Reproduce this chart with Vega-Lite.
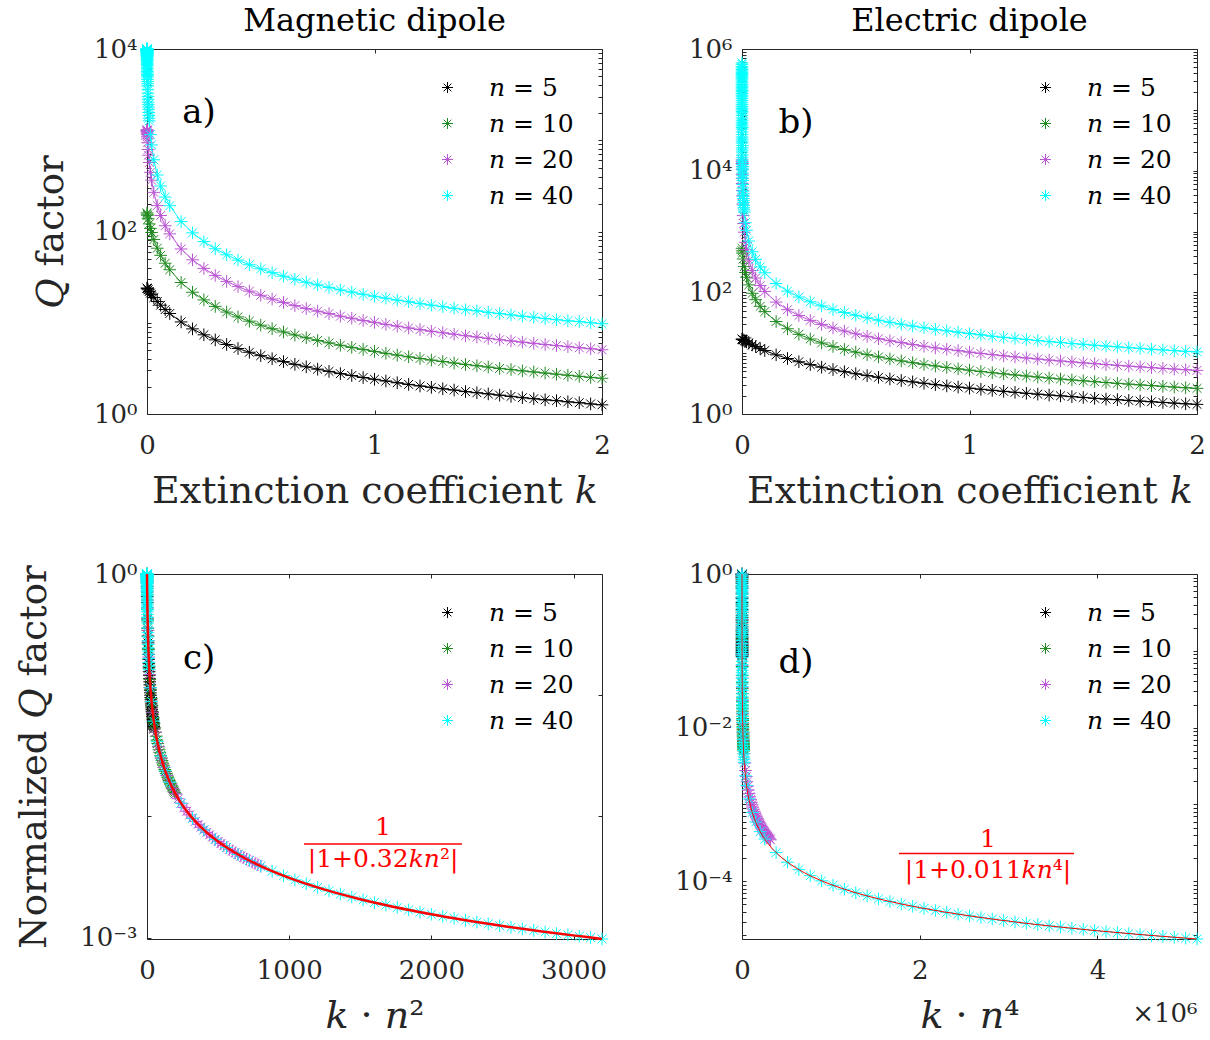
{
"$schema": "https://vega.github.io/schema/vega-lite/v6.json",
"padding": {"left": 15, "top": 4, "right": 0, "bottom": 0},
"background": "white",
"config": {
 "font": "DejaVu Serif",
 "view": {"stroke": "#262626", "strokeWidth": 1},
 "axis": {"domain": false, "grid": false, "tickSize": -4, "tickColor": "#262626", "tickWidth": 1, "labelFont": "DejaVu Serif", "labelFontSize": 26, "labelColor": "#262626", "titleFont": "DejaVu Serif", "titleFontSize": 37, "titleFontWeight": "normal", "titleColor": "#262626", "labelFlush": false, "labelOverlap": false, "labelBound": false, "labelAngle": 0},
 "axisX": {"labelPadding": 22, "titlePadding": 14, "titleFontSize": 38},
 "axisY": {"labelPadding": 14, "titlePadding": 23},
 "title": {"font": "DejaVu Serif", "fontSize": 32, "fontWeight": "normal", "color": "#000000", "offset": -2},
 "legend": {"labelFont": "DejaVu Serif", "labelFontSize": 25, "labelColor": "#000000"}
},
"datasets": {
 "q": [
{"k":0,"n":5,"qm":24,"qe":17,"kn2":0,"kn4":0,"qmn":1,"qen":1},
{"k":0.001,"n":5,"qm":23.79,"qe":16.91,"kn2":0.025,"kn4":0.625,"qmn":0.9911,"qen":0.9946},
{"k":0.002,"n":5,"qm":23.58,"qe":16.82,"kn2":0.05,"kn4":1.25,"qmn":0.9823,"qen":0.9893},
{"k":0.005,"n":5,"qm":22.97,"qe":16.55,"kn2":0.125,"kn4":3.125,"qmn":0.9569,"qen":0.9737},
{"k":0.01,"n":5,"qm":22.02,"qe":16.13,"kn2":0.25,"kn4":6.25,"qmn":0.9174,"qen":0.9488},
{"k":0.015,"n":5,"qm":21.15,"qe":15.73,"kn2":0.375,"kn4":9.375,"qmn":0.8811,"qen":0.9251},
{"k":0.02,"n":5,"qm":20.34,"qe":15.34,"kn2":0.5,"kn4":12.5,"qmn":0.8475,"qen":0.9025},
{"k":0.03,"n":5,"qm":18.9,"qe":14.63,"kn2":0.75,"kn4":18.75,"qmn":0.7874,"qen":0.8606},
{"k":0.045,"n":5,"qm":17.08,"qe":13.68,"kn2":1.125,"kn4":28.125,"qmn":0.7117,"qen":0.8045},
{"k":0.06,"n":5,"qm":15.58,"qe":12.84,"kn2":1.5,"kn4":37.5,"qmn":0.6494,"qen":0.7553},
{"k":0.08,"n":5,"qm":13.95,"qe":11.87,"kn2":2,"kn4":50,"qmn":0.5814,"qen":0.6983},
{"k":0.1,"n":5,"qm":12.63,"qe":11.04,"kn2":2.5,"kn4":62.5,"qmn":0.5263,"qen":0.6494},
{"k":0.15,"n":5,"qm":10.21,"qe":9.39,"kn2":3.75,"kn4":93.75,"qmn":0.4255,"qen":0.5525},
{"k":0.2,"n":5,"qm":8.57,"qe":8.17,"kn2":5,"kn4":125,"qmn":0.3571,"qen":0.4808},
{"k":0.25,"n":5,"qm":7.38,"qe":7.23,"kn2":6.25,"kn4":156.25,"qmn":0.3077,"qen":0.4255},
{"k":0.3,"n":5,"qm":6.49,"qe":6.49,"kn2":7.5,"kn4":187.5,"qmn":0.2703,"qen":0.3817},
{"k":0.35,"n":5,"qm":5.78,"qe":5.88,"kn2":8.75,"kn4":218.75,"qmn":0.241,"qen":0.346},
{"k":0.4,"n":5,"qm":5.22,"qe":5.38,"kn2":10,"kn4":250,"qmn":0.2174,"qen":0.3165},
{"k":0.45,"n":5,"qm":4.75,"qe":4.96,"kn2":11.25,"kn4":281.25,"qmn":0.198,"qen":0.2915},
{"k":0.5,"n":5,"qm":4.36,"qe":4.59,"kn2":12.5,"kn4":312.5,"qmn":0.1818,"qen":0.2703},
{"k":0.55,"n":5,"qm":4.03,"qe":4.28,"kn2":13.75,"kn4":343.75,"qmn":0.1681,"qen":0.2519},
{"k":0.6,"n":5,"qm":3.75,"qe":4.01,"kn2":15,"kn4":375,"qmn":0.1563,"qen":0.2358},
{"k":0.65,"n":5,"qm":3.5,"qe":3.77,"kn2":16.25,"kn4":406.25,"qmn":0.146,"qen":0.2217},
{"k":0.7,"n":5,"qm":3.29,"qe":3.56,"kn2":17.5,"kn4":437.5,"qmn":0.137,"qen":0.2092},
{"k":0.75,"n":5,"qm":3.1,"qe":3.37,"kn2":18.75,"kn4":468.75,"qmn":0.129,"qen":0.198},
{"k":0.8,"n":5,"qm":2.93,"qe":3.2,"kn2":20,"kn4":500,"qmn":0.122,"qen":0.188},
{"k":0.85,"n":5,"qm":2.77,"qe":3.04,"kn2":21.25,"kn4":531.25,"qmn":0.1156,"qen":0.1789},
{"k":0.9,"n":5,"qm":2.64,"qe":2.9,"kn2":22.5,"kn4":562.5,"qmn":0.1099,"qen":0.1706},
{"k":0.95,"n":5,"qm":2.51,"qe":2.77,"kn2":23.75,"kn4":593.75,"qmn":0.1047,"qen":0.1631},
{"k":1,"n":5,"qm":2.4,"qe":2.66,"kn2":25,"kn4":625,"qmn":0.1,"qen":0.1563},
{"k":1.05,"n":5,"qm":2.3,"qe":2.55,"kn2":26.25,"kn4":656.25,"qmn":0.0957,"qen":0.1499},
{"k":1.1,"n":5,"qm":2.2,"qe":2.45,"kn2":27.5,"kn4":687.5,"qmn":0.0917,"qen":0.1441},
{"k":1.15,"n":5,"qm":2.11,"qe":2.36,"kn2":28.75,"kn4":718.75,"qmn":0.0881,"qen":0.1387},
{"k":1.2,"n":5,"qm":2.03,"qe":2.27,"kn2":30,"kn4":750,"qmn":0.0847,"qen":0.1337},
{"k":1.25,"n":5,"qm":1.96,"qe":2.19,"kn2":31.25,"kn4":781.25,"qmn":0.0816,"qen":0.129},
{"k":1.3,"n":5,"qm":1.89,"qe":2.12,"kn2":32.5,"kn4":812.5,"qmn":0.0787,"qen":0.1247},
{"k":1.35,"n":5,"qm":1.83,"qe":2.05,"kn2":33.75,"kn4":843.75,"qmn":0.076,"qen":0.1206},
{"k":1.4,"n":5,"qm":1.76,"qe":1.99,"kn2":35,"kn4":875,"qmn":0.0735,"qen":0.1168},
{"k":1.45,"n":5,"qm":1.71,"qe":1.93,"kn2":36.25,"kn4":906.25,"qmn":0.0712,"qen":0.1133},
{"k":1.5,"n":5,"qm":1.66,"qe":1.87,"kn2":37.5,"kn4":937.5,"qmn":0.069,"qen":0.1099},
{"k":1.55,"n":5,"qm":1.61,"qe":1.81,"kn2":38.75,"kn4":968.75,"qmn":0.0669,"qen":0.1067},
{"k":1.6,"n":5,"qm":1.56,"qe":1.76,"kn2":40,"kn4":1000,"qmn":0.0649,"qen":0.1037},
{"k":1.65,"n":5,"qm":1.51,"qe":1.72,"kn2":41.25,"kn4":1031.25,"qmn":0.0631,"qen":0.1009},
{"k":1.7,"n":5,"qm":1.47,"qe":1.67,"kn2":42.5,"kn4":1062.5,"qmn":0.0613,"qen":0.0982},
{"k":1.75,"n":5,"qm":1.43,"qe":1.63,"kn2":43.75,"kn4":1093.75,"qmn":0.0597,"qen":0.0957},
{"k":1.8,"n":5,"qm":1.4,"qe":1.59,"kn2":45,"kn4":1125,"qmn":0.0581,"qen":0.0933},
{"k":1.85,"n":5,"qm":1.36,"qe":1.55,"kn2":46.25,"kn4":1156.25,"qmn":0.0567,"qen":0.091},
{"k":1.9,"n":5,"qm":1.33,"qe":1.51,"kn2":47.5,"kn4":1187.5,"qmn":0.0552,"qen":0.0888},
{"k":1.95,"n":5,"qm":1.29,"qe":1.47,"kn2":48.75,"kn4":1218.75,"qmn":0.0539,"qen":0.0867},
{"k":2,"n":5,"qm":1.26,"qe":1.44,"kn2":50,"kn4":1250,"qmn":0.0526,"qen":0.0847},
{"k":0,"n":10,"qm":160,"qe":530,"kn2":0,"kn4":0,"qmn":1,"qen":1},
{"k":0.001,"n":10,"qm":155,"qe":481.8,"kn2":0.1,"kn4":10,"qmn":0.969,"qen":0.9091},
{"k":0.002,"n":10,"qm":150.4,"qe":441.7,"kn2":0.2,"kn4":20,"qmn":0.9398,"qen":0.8333},
{"k":0.005,"n":10,"qm":137.9,"qe":353.3,"kn2":0.5,"kn4":50,"qmn":0.8621,"qen":0.6667},
{"k":0.01,"n":10,"qm":121.2,"qe":265,"kn2":1,"kn4":100,"qmn":0.7576,"qen":0.5},
{"k":0.015,"n":10,"qm":108.1,"qe":212,"kn2":1.5,"kn4":150,"qmn":0.6757,"qen":0.4},
{"k":0.02,"n":10,"qm":97.6,"qe":176.7,"kn2":2,"kn4":200,"qmn":0.6098,"qen":0.3333},
{"k":0.03,"n":10,"qm":81.6,"qe":132.5,"kn2":3,"kn4":300,"qmn":0.5102,"qen":0.25},
{"k":0.045,"n":10,"qm":65.6,"qe":96.4,"kn2":4.5,"kn4":450,"qmn":0.4098,"qen":0.1818},
{"k":0.06,"n":10,"qm":54.8,"qe":75.7,"kn2":6,"kn4":600,"qmn":0.3425,"qen":0.1429},
{"k":0.08,"n":10,"qm":44.9,"qe":58.9,"kn2":8,"kn4":800,"qmn":0.2809,"qen":0.1111},
{"k":0.1,"n":10,"qm":38.1,"qe":48.2,"kn2":10,"kn4":1000,"qmn":0.2381,"qen":0.0909},
{"k":0.15,"n":10,"qm":27.6,"qe":33.1,"kn2":15,"kn4":1500,"qmn":0.1724,"qen":0.0625},
{"k":0.2,"n":10,"qm":21.6,"qe":25.2,"kn2":20,"kn4":2000,"qmn":0.1351,"qen":0.0476},
{"k":0.25,"n":10,"qm":17.8,"qe":20.4,"kn2":25,"kn4":2500,"qmn":0.1111,"qen":0.03846},
{"k":0.3,"n":10,"qm":15.1,"qe":17.1,"kn2":30,"kn4":3000,"qmn":0.0943,"qen":0.03226},
{"k":0.35,"n":10,"qm":13.1,"qe":14.7,"kn2":35,"kn4":3500,"qmn":0.082,"qen":0.02778},
{"k":0.4,"n":10,"qm":11.6,"qe":12.9,"kn2":40,"kn4":4000,"qmn":0.0725,"qen":0.02439},
{"k":0.45,"n":10,"qm":10.4,"qe":11.5,"kn2":45,"kn4":4500,"qmn":0.0649,"qen":0.02174},
{"k":0.5,"n":10,"qm":9.41,"qe":10.4,"kn2":50,"kn4":5000,"qmn":0.0588,"qen":0.01961},
{"k":0.55,"n":10,"qm":8.6,"qe":9.46,"kn2":55,"kn4":5500,"qmn":0.0538,"qen":0.01786},
{"k":0.6,"n":10,"qm":7.92,"qe":8.69,"kn2":60,"kn4":6000,"qmn":0.0495,"qen":0.01639},
{"k":0.65,"n":10,"qm":7.34,"qe":8.03,"kn2":65,"kn4":6500,"qmn":0.0459,"qen":0.01515},
{"k":0.7,"n":10,"qm":6.84,"qe":7.46,"kn2":70,"kn4":7000,"qmn":0.0427,"qen":0.01408},
{"k":0.75,"n":10,"qm":6.4,"qe":6.97,"kn2":75,"kn4":7500,"qmn":0.04,"qen":0.01316},
{"k":0.8,"n":10,"qm":6.02,"qe":6.54,"kn2":80,"kn4":8000,"qmn":0.0376,"qen":0.01235},
{"k":0.85,"n":10,"qm":5.67,"qe":6.16,"kn2":85,"kn4":8500,"qmn":0.0355,"qen":0.01163},
{"k":0.9,"n":10,"qm":5.37,"qe":5.82,"kn2":90,"kn4":9000,"qmn":0.0336,"qen":0.01099},
{"k":0.95,"n":10,"qm":5.1,"qe":5.52,"kn2":95,"kn4":9500,"qmn":0.0318,"qen":0.01042},
{"k":1,"n":10,"qm":4.85,"qe":5.25,"kn2":100,"kn4":10000,"qmn":0.0303,"qen":0.0099},
{"k":1.05,"n":10,"qm":4.62,"qe":5,"kn2":105,"kn4":10500,"qmn":0.0289,"qen":0.00943},
{"k":1.1,"n":10,"qm":4.42,"qe":4.77,"kn2":110,"kn4":11000,"qmn":0.0276,"qen":0.00901},
{"k":1.15,"n":10,"qm":4.23,"qe":4.57,"kn2":115,"kn4":11500,"qmn":0.0265,"qen":0.00862},
{"k":1.2,"n":10,"qm":4.06,"qe":4.38,"kn2":120,"kn4":12000,"qmn":0.0254,"qen":0.00826},
{"k":1.25,"n":10,"qm":3.9,"qe":4.21,"kn2":125,"kn4":12500,"qmn":0.0244,"qen":0.00794},
{"k":1.3,"n":10,"qm":3.76,"qe":4.05,"kn2":130,"kn4":13000,"qmn":0.0235,"qen":0.00763},
{"k":1.35,"n":10,"qm":3.62,"qe":3.9,"kn2":135,"kn4":13500,"qmn":0.0226,"qen":0.00735},
{"k":1.4,"n":10,"qm":3.49,"qe":3.76,"kn2":140,"kn4":14000,"qmn":0.0218,"qen":0.00709},
{"k":1.45,"n":10,"qm":3.38,"qe":3.63,"kn2":145,"kn4":14500,"qmn":0.0211,"qen":0.00685},
{"k":1.5,"n":10,"qm":3.27,"qe":3.51,"kn2":150,"kn4":15000,"qmn":0.0204,"qen":0.00662},
{"k":1.55,"n":10,"qm":3.16,"qe":3.4,"kn2":155,"kn4":15500,"qmn":0.0198,"qen":0.00641},
{"k":1.6,"n":10,"qm":3.07,"qe":3.29,"kn2":160,"kn4":16000,"qmn":0.0192,"qen":0.00621},
{"k":1.65,"n":10,"qm":2.97,"qe":3.19,"kn2":165,"kn4":16500,"qmn":0.0186,"qen":0.00602},
{"k":1.7,"n":10,"qm":2.89,"qe":3.1,"kn2":170,"kn4":17000,"qmn":0.0181,"qen":0.00585},
{"k":1.75,"n":10,"qm":2.81,"qe":3.01,"kn2":175,"kn4":17500,"qmn":0.0175,"qen":0.00568},
{"k":1.8,"n":10,"qm":2.73,"qe":2.93,"kn2":180,"kn4":18000,"qmn":0.0171,"qen":0.00552},
{"k":1.85,"n":10,"qm":2.66,"qe":2.85,"kn2":185,"kn4":18500,"qmn":0.0166,"qen":0.00538},
{"k":1.9,"n":10,"qm":2.59,"qe":2.77,"kn2":190,"kn4":19000,"qmn":0.0162,"qen":0.00524},
{"k":1.95,"n":10,"qm":2.52,"qe":2.7,"kn2":195,"kn4":19500,"qmn":0.0158,"qen":0.0051},
{"k":2,"n":10,"qm":2.46,"qe":2.64,"kn2":200,"kn4":20000,"qmn":0.0154,"qen":0.00498},
{"k":0,"n":20,"qm":1300,"qe":15000,"kn2":0,"kn4":0,"qmn":1,"qen":1},
{"k":0.00005,"n":20,"qm":1292,"qe":13993,"kn2":0.02,"kn4":8,"qmn":0.9936,"qen":0.9328},
{"k":0.0001,"n":20,"qm":1284,"qe":13112,"kn2":0.04,"kn4":16,"qmn":0.9874,"qen":0.8741},
{"k":0.0002,"n":20,"qm":1268,"qe":11646,"kn2":0.08,"kn4":32,"qmn":0.975,"qen":0.7764},
{"k":0.0003,"n":20,"qm":1252,"qe":10475,"kn2":0.12,"kn4":48,"qmn":0.963,"qen":0.6983},
{"k":0.0005,"n":20,"qm":1222,"qe":8721,"kn2":0.2,"kn4":80,"qmn":0.9398,"qen":0.5814},
{"k":0.0007,"n":20,"qm":1193,"qe":7470,"kn2":0.28,"kn4":112,"qmn":0.9178,"qen":0.498},
{"k":0.001,"n":20,"qm":1152,"qe":6148,"kn2":0.4,"kn4":160,"qmn":0.8865,"qen":0.4098},
{"k":0.0015,"n":20,"qm":1091,"qe":4747,"kn2":0.6,"kn4":240,"qmn":0.8389,"qen":0.3165},
{"k":0.002,"n":20,"qm":1035,"qe":3866,"kn2":0.8,"kn4":320,"qmn":0.7962,"qen":0.2577},
{"k":0.003,"n":20,"qm":939.3,"qe":2820,"kn2":1.2,"kn4":480,"qmn":0.7225,"qen":0.188},
{"k":0.005,"n":20,"qm":792.7,"qe":1829,"kn2":2,"kn4":800,"qmn":0.6098,"qen":0.122},
{"k":0.007,"n":20,"qm":685.7,"qe":1354,"kn2":2.8,"kn4":1120,"qmn":0.5274,"qen":0.09025},
{"k":0.01,"n":20,"qm":570.2,"qe":974,"kn2":4,"kn4":1600,"qmn":0.4386,"qen":0.06494},
{"k":0.015,"n":20,"qm":445.2,"qe":663.7,"kn2":6,"kn4":2400,"qmn":0.3425,"qen":0.04425},
{"k":0.02,"n":20,"qm":365.2,"qe":503.4,"kn2":8,"kn4":3200,"qmn":0.2809,"qen":0.03356},
{"k":0.03,"n":20,"qm":268.6,"qe":339.4,"kn2":12,"kn4":4800,"qmn":0.2066,"qen":0.02262},
{"k":0.045,"n":20,"qm":192.3,"qe":228,"kn2":18,"kn4":7200,"qmn":0.1479,"qen":0.0152},
{"k":0.06,"n":20,"qm":149.8,"qe":171.6,"kn2":24,"kn4":9600,"qmn":0.1152,"qen":0.01144},
{"k":0.08,"n":20,"qm":115.7,"qe":129.1,"kn2":32,"kn4":12800,"qmn":0.08897,"qen":0.008606},
{"k":0.1,"n":20,"qm":94.2,"qe":103.4,"kn2":40,"kn4":16000,"qmn":0.07246,"qen":0.006897},
{"k":0.15,"n":20,"qm":64.4,"qe":69.1,"kn2":60,"kn4":24000,"qmn":0.0495,"qen":0.004608},
{"k":0.2,"n":20,"qm":48.9,"qe":51.9,"kn2":80,"kn4":32000,"qmn":0.03759,"qen":0.00346},
{"k":0.25,"n":20,"qm":39.4,"qe":41.6,"kn2":100,"kn4":40000,"qmn":0.0303,"qen":0.00277},
{"k":0.3,"n":20,"qm":33,"qe":34.6,"kn2":120,"kn4":48000,"qmn":0.02538,"qen":0.002309},
{"k":0.35,"n":20,"qm":28.4,"qe":29.7,"kn2":140,"kn4":56000,"qmn":0.02183,"qen":0.00198},
{"k":0.4,"n":20,"qm":24.9,"qe":26,"kn2":160,"kn4":64000,"qmn":0.01916,"qen":0.001733},
{"k":0.45,"n":20,"qm":22.2,"qe":23.1,"kn2":180,"kn4":72000,"qmn":0.01706,"qen":0.001541},
{"k":0.5,"n":20,"qm":20,"qe":20.8,"kn2":200,"kn4":80000,"qmn":0.01538,"qen":0.001387},
{"k":0.55,"n":20,"qm":18.2,"qe":18.9,"kn2":220,"kn4":88000,"qmn":0.01401,"qen":0.001261},
{"k":0.6,"n":20,"qm":16.7,"qe":17.3,"kn2":240,"kn4":96000,"qmn":0.01285,"qen":0.001156},
{"k":0.65,"n":20,"qm":15.4,"qe":16,"kn2":260,"kn4":104000,"qmn":0.01188,"qen":0.001067},
{"k":0.7,"n":20,"qm":14.3,"qe":14.9,"kn2":280,"kn4":112000,"qmn":0.01104,"qen":0.000991},
{"k":0.75,"n":20,"qm":13.4,"qe":13.9,"kn2":300,"kn4":120000,"qmn":0.01031,"qen":0.000925},
{"k":0.8,"n":20,"qm":12.6,"qe":13,"kn2":320,"kn4":128000,"qmn":0.009671,"qen":0.000867},
{"k":0.85,"n":20,"qm":11.8,"qe":12.2,"kn2":340,"kn4":136000,"qmn":0.009107,"qen":0.000816},
{"k":0.9,"n":20,"qm":11.2,"qe":11.6,"kn2":360,"kn4":144000,"qmn":0.008606,"qen":0.000771},
{"k":0.95,"n":20,"qm":10.6,"qe":11,"kn2":380,"kn4":152000,"qmn":0.008157,"qen":0.00073},
{"k":1,"n":20,"qm":10.1,"qe":10.4,"kn2":400,"kn4":160000,"qmn":0.007752,"qen":0.000694},
{"k":1.05,"n":20,"qm":9.6,"qe":9.91,"kn2":420,"kn4":168000,"qmn":0.007386,"qen":0.000661},
{"k":1.1,"n":20,"qm":9.17,"qe":9.46,"kn2":440,"kn4":176000,"qmn":0.007052,"qen":0.000631},
{"k":1.15,"n":20,"qm":8.77,"qe":9.05,"kn2":460,"kn4":184000,"qmn":0.006748,"qen":0.000604},
{"k":1.2,"n":20,"qm":8.41,"qe":8.68,"kn2":480,"kn4":192000,"qmn":0.006468,"qen":0.000578},
{"k":1.25,"n":20,"qm":8.07,"qe":8.33,"kn2":500,"kn4":200000,"qmn":0.006211,"qen":0.000555},
{"k":1.3,"n":20,"qm":7.77,"qe":8.01,"kn2":520,"kn4":208000,"qmn":0.005974,"qen":0.000534},
{"k":1.35,"n":20,"qm":7.48,"qe":7.71,"kn2":540,"kn4":216000,"qmn":0.005754,"qen":0.000514},
{"k":1.4,"n":20,"qm":7.21,"qe":7.44,"kn2":560,"kn4":224000,"qmn":0.005549,"qen":0.000496},
{"k":1.45,"n":20,"qm":6.97,"qe":7.18,"kn2":580,"kn4":232000,"qmn":0.005359,"qen":0.000479},
{"k":1.5,"n":20,"qm":6.74,"qe":6.94,"kn2":600,"kn4":240000,"qmn":0.005181,"qen":0.000463},
{"k":1.55,"n":20,"qm":6.52,"qe":6.72,"kn2":620,"kn4":248000,"qmn":0.005015,"qen":0.000448},
{"k":1.6,"n":20,"qm":6.32,"qe":6.51,"kn2":640,"kn4":256000,"qmn":0.004859,"qen":0.000434},
{"k":1.65,"n":20,"qm":6.13,"qe":6.31,"kn2":660,"kn4":264000,"qmn":0.004713,"qen":0.000421},
{"k":1.7,"n":20,"qm":5.95,"qe":6.12,"kn2":680,"kn4":272000,"qmn":0.004575,"qen":0.000408},
{"k":1.75,"n":20,"qm":5.78,"qe":5.95,"kn2":700,"kn4":280000,"qmn":0.004444,"qen":0.000397},
{"k":1.8,"n":20,"qm":5.62,"qe":5.78,"kn2":720,"kn4":288000,"qmn":0.004322,"qen":0.000386},
{"k":1.85,"n":20,"qm":5.47,"qe":5.63,"kn2":740,"kn4":296000,"qmn":0.004205,"qen":0.000375},
{"k":1.9,"n":20,"qm":5.32,"qe":5.48,"kn2":760,"kn4":304000,"qmn":0.004095,"qen":0.000365},
{"k":1.95,"n":20,"qm":5.19,"qe":5.34,"kn2":780,"kn4":312000,"qmn":0.00399,"qen":0.000356},
{"k":2,"n":20,"qm":5.06,"qe":5.21,"kn2":800,"kn4":320000,"qmn":0.003891,"qen":0.000347},
{"k":0,"n":40,"qm":10000,"qe":590000,"kn2":0,"kn4":0,"qmn":1,"qen":1},
{"k":0.000005,"n":40,"qm":9974,"qe":517180,"kn2":0.008,"kn4":12.8,"qmn":0.9974,"qen":0.8766},
{"k":0.00001,"n":40,"qm":9949,"qe":460400,"kn2":0.016,"kn4":25.6,"qmn":0.9949,"qen":0.7803},
{"k":0.000015,"n":40,"qm":9924,"qe":414790,"kn2":0.024,"kn4":38.4,"qmn":0.9924,"qen":0.703},
{"k":0.00002,"n":40,"qm":9899,"qe":377430,"kn2":0.032,"kn4":51.2,"qmn":0.9899,"qen":0.6397},
{"k":0.000025,"n":40,"qm":9874,"qe":346240,"kn2":0.04,"kn4":64,"qmn":0.9874,"qen":0.5869},
{"k":0.00003,"n":40,"qm":9849,"qe":319820,"kn2":0.048,"kn4":76.8,"qmn":0.9849,"qen":0.5421},
{"k":0.00004,"n":40,"qm":9799,"qe":277460,"kn2":0.064,"kn4":102.4,"qmn":0.9799,"qen":0.4703},
{"k":0.00005,"n":40,"qm":9750,"qe":245020,"kn2":0.08,"kn4":128,"qmn":0.975,"qen":0.4153},
{"k":0.00006,"n":40,"qm":9702,"qe":219360,"kn2":0.096,"kn4":153.6,"qmn":0.9702,"qen":0.3718},
{"k":0.00007,"n":40,"qm":9654,"qe":198570,"kn2":0.112,"kn4":179.2,"qmn":0.9654,"qen":0.3366},
{"k":0.000085,"n":40,"qm":9583,"qe":173860,"kn2":0.136,"kn4":217.6,"qmn":0.9583,"qen":0.2947},
{"k":0.0001,"n":40,"qm":9513,"qe":154610,"kn2":0.16,"kn4":256,"qmn":0.9513,"qen":0.2621},
{"k":0.000125,"n":40,"qm":9398,"qe":130530,"kn2":0.2,"kn4":320,"qmn":0.9398,"qen":0.2212},
{"k":0.00015,"n":40,"qm":9287,"qe":112940,"kn2":0.24,"kn4":384,"qmn":0.9287,"qen":0.1914},
{"k":0.000175,"n":40,"qm":9178,"qe":99528,"kn2":0.28,"kn4":448,"qmn":0.9178,"qen":0.1687},
{"k":0.0002,"n":40,"qm":9071,"qe":88963,"kn2":0.32,"kn4":512,"qmn":0.9071,"qen":0.1508},
{"k":0.00025,"n":40,"qm":8865,"qe":73383,"kn2":0.4,"kn4":640,"qmn":0.8865,"qen":0.1244},
{"k":0.0003,"n":40,"qm":8669,"qe":62447,"kn2":0.48,"kn4":768,"qmn":0.8669,"qen":0.1058},
{"k":0.00035,"n":40,"qm":8480,"qe":54348,"kn2":0.56,"kn4":896,"qmn":0.848,"qen":0.09211},
{"k":0.0004,"n":40,"qm":8300,"qe":48108,"kn2":0.64,"kn4":1024,"qmn":0.83,"qen":0.08154},
{"k":0.0005,"n":40,"qm":7962,"qe":39125,"kn2":0.8,"kn4":1280,"qmn":0.7962,"qen":0.06631},
{"k":0.0006,"n":40,"qm":7650,"qe":32968,"kn2":0.96,"kn4":1536,"qmn":0.765,"qen":0.05588},
{"k":0.0007,"n":40,"qm":7362,"qe":28486,"kn2":1.12,"kn4":1792,"qmn":0.7362,"qen":0.04828},
{"k":0.00085,"n":40,"qm":6968,"qe":23661,"kn2":1.36,"kn4":2176,"qmn":0.6968,"qen":0.0401},
{"k":0.001,"n":40,"qm":6614,"qe":20233,"kn2":1.6,"kn4":2560,"qmn":0.6614,"qen":0.03429},
{"k":0.00125,"n":40,"qm":6098,"qe":16298,"kn2":2,"kn4":3200,"qmn":0.6098,"qen":0.02762},
{"k":0.0015,"n":40,"qm":5656,"qe":13645,"kn2":2.4,"kn4":3840,"qmn":0.5656,"qen":0.02313},
{"k":0.00175,"n":40,"qm":5274,"qe":11734,"kn2":2.8,"kn4":4480,"qmn":0.5274,"qen":0.01989},
{"k":0.002,"n":40,"qm":4941,"qe":10293,"kn2":3.2,"kn4":5120,"qmn":0.4941,"qen":0.01745},
{"k":0.0025,"n":40,"qm":4386,"qe":8263,"kn2":4,"kn4":6400,"qmn":0.4386,"qen":0.01401},
{"k":0.003,"n":40,"qm":3943,"qe":6902,"kn2":4.8,"kn4":7680,"qmn":0.3943,"qen":0.0117},
{"k":0.004,"n":40,"qm":3281,"qe":5192,"kn2":6.4,"kn4":10240,"qmn":0.3281,"qen":0.0088},
{"k":0.005,"n":40,"qm":2809,"qe":4161,"kn2":8,"kn4":12800,"qmn":0.2809,"qen":0.007052},
{"k":0.006,"n":40,"qm":2456,"qe":3471,"kn2":9.6,"kn4":15360,"qmn":0.2456,"qen":0.005884},
{"k":0.007,"n":40,"qm":2182,"qe":2978,"kn2":11.2,"kn4":17920,"qmn":0.2182,"qen":0.005047},
{"k":0.0085,"n":40,"qm":1868,"qe":2455,"kn2":13.6,"kn4":21760,"qmn":0.1868,"qen":0.00416},
{"k":0.01,"n":40,"qm":1634,"qe":2088,"kn2":16,"kn4":25600,"qmn":0.1634,"qen":0.003539},
{"k":0.015,"n":40,"qm":1152,"qe":1393,"kn2":24,"kn4":38400,"qmn":0.1152,"qen":0.002362},
{"k":0.02,"n":40,"qm":889.7,"qe":1046,"kn2":32,"kn4":51200,"qmn":0.08897,"qen":0.001772},
{"k":0.03,"n":40,"qm":611.2,"qe":697.6,"kn2":48,"kn4":76800,"qmn":0.06112,"qen":0.001182},
{"k":0.045,"n":40,"qm":416,"qe":465.2,"kn2":72,"kn4":115200,"qmn":0.0416,"qen":0.0007885},
{"k":0.06,"n":40,"qm":315.3,"qe":349,"kn2":96,"kn4":153600,"qmn":0.03153,"qen":0.0005915},
{"k":0.08,"n":40,"qm":238.3,"qe":261.8,"kn2":128,"kn4":204800,"qmn":0.02383,"qen":0.0004437},
{"k":0.1,"n":40,"qm":191.6,"qe":209.4,"kn2":160,"kn4":256000,"qmn":0.01916,"qen":0.000355},
{"k":0.15,"n":40,"qm":128.5,"qe":139.6,"kn2":240,"kn4":384000,"qmn":0.01285,"qen":0.0002367},
{"k":0.2,"n":40,"qm":96.7,"qe":104.7,"kn2":320,"kn4":512000,"qmn":0.009671,"qen":0.0001775},
{"k":0.25,"n":40,"qm":77.5,"qe":83.8,"kn2":400,"kn4":640000,"qmn":0.007752,"qen":0.000142},
{"k":0.3,"n":40,"qm":64.7,"qe":69.8,"kn2":480,"kn4":768000,"qmn":0.006468,"qen":0.0001184},
{"k":0.35,"n":40,"qm":55.5,"qe":59.9,"kn2":560,"kn4":896000,"qmn":0.005549,"qen":0.0001015},
{"k":0.4,"n":40,"qm":48.6,"qe":52.4,"kn2":640,"kn4":1024000,"qmn":0.004859,"qen":0.00008877},
{"k":0.45,"n":40,"qm":43.2,"qe":46.6,"kn2":720,"kn4":1152000,"qmn":0.004322,"qen":0.00007891},
{"k":0.5,"n":40,"qm":38.9,"qe":41.9,"kn2":800,"kn4":1280000,"qmn":0.003891,"qen":0.00007102},
{"k":0.55,"n":40,"qm":35.4,"qe":38.1,"kn2":880,"kn4":1408000,"qmn":0.003539,"qen":0.00006456},
{"k":0.6,"n":40,"qm":32.4,"qe":34.9,"kn2":960,"kn4":1536000,"qmn":0.003245,"qen":0.00005918},
{"k":0.65,"n":40,"qm":30,"qe":32.2,"kn2":1040,"kn4":1664000,"qmn":0.002996,"qen":0.00005463},
{"k":0.7,"n":40,"qm":27.8,"qe":29.9,"kn2":1120,"kn4":1792000,"qmn":0.002782,"qen":0.00005073},
{"k":0.75,"n":40,"qm":26,"qe":27.9,"kn2":1200,"kn4":1920000,"qmn":0.002597,"qen":0.00004735},
{"k":0.8,"n":40,"qm":24.4,"qe":26.2,"kn2":1280,"kn4":2048000,"qmn":0.002435,"qen":0.00004439},
{"k":0.85,"n":40,"qm":22.9,"qe":24.6,"kn2":1360,"kn4":2176000,"qmn":0.002293,"qen":0.00004178},
{"k":0.9,"n":40,"qm":21.7,"qe":23.3,"kn2":1440,"kn4":2304000,"qmn":0.002165,"qen":0.00003946},
{"k":0.95,"n":40,"qm":20.5,"qe":22.1,"kn2":1520,"kn4":2432000,"qmn":0.002052,"qen":0.00003738},
{"k":1,"n":40,"qm":19.5,"qe":21,"kn2":1600,"kn4":2560000,"qmn":0.001949,"qen":0.00003551},
{"k":1.05,"n":40,"qm":18.6,"qe":20,"kn2":1680,"kn4":2688000,"qmn":0.001857,"qen":0.00003382},
{"k":1.1,"n":40,"qm":17.7,"qe":19,"kn2":1760,"kn4":2816000,"qmn":0.001772,"qen":0.00003228},
{"k":1.15,"n":40,"qm":17,"qe":18.2,"kn2":1840,"kn4":2944000,"qmn":0.001695,"qen":0.00003088},
{"k":1.2,"n":40,"qm":16.2,"qe":17.5,"kn2":1920,"kn4":3072000,"qmn":0.001625,"qen":0.00002959},
{"k":1.25,"n":40,"qm":15.6,"qe":16.8,"kn2":2000,"kn4":3200000,"qmn":0.00156,"qen":0.00002841},
{"k":1.3,"n":40,"qm":15,"qe":16.1,"kn2":2080,"kn4":3328000,"qmn":0.0015,"qen":0.00002732},
{"k":1.35,"n":40,"qm":14.4,"qe":15.5,"kn2":2160,"kn4":3456000,"qmn":0.001445,"qen":0.0000263},
{"k":1.4,"n":40,"qm":13.9,"qe":15,"kn2":2240,"kn4":3584000,"qmn":0.001393,"qen":0.00002536},
{"k":1.45,"n":40,"qm":13.5,"qe":14.4,"kn2":2320,"kn4":3712000,"qmn":0.001345,"qen":0.00002449},
{"k":1.5,"n":40,"qm":13,"qe":14,"kn2":2400,"kn4":3840000,"qmn":0.0013,"qen":0.00002367},
{"k":1.55,"n":40,"qm":12.6,"qe":13.5,"kn2":2480,"kn4":3968000,"qmn":0.001258,"qen":0.00002291},
{"k":1.6,"n":40,"qm":12.2,"qe":13.1,"kn2":2560,"kn4":4096000,"qmn":0.001219,"qen":0.00002219},
{"k":1.65,"n":40,"qm":11.8,"qe":12.7,"kn2":2640,"kn4":4224000,"qmn":0.001182,"qen":0.00002152},
{"k":1.7,"n":40,"qm":11.5,"qe":12.3,"kn2":2720,"kn4":4352000,"qmn":0.001148,"qen":0.00002089},
{"k":1.75,"n":40,"qm":11.1,"qe":12,"kn2":2800,"kn4":4480000,"qmn":0.001115,"qen":0.00002029},
{"k":1.8,"n":40,"qm":10.8,"qe":11.6,"kn2":2880,"kn4":4608000,"qmn":0.001084,"qen":0.00001973},
{"k":1.85,"n":40,"qm":10.5,"qe":11.3,"kn2":2960,"kn4":4736000,"qmn":0.001055,"qen":0.00001919},
{"k":1.9,"n":40,"qm":10.3,"qe":11,"kn2":3040,"kn4":4864000,"qmn":0.001027,"qen":0.00001869},
{"k":1.95,"n":40,"qm":10,"qe":10.7,"kn2":3120,"kn4":4992000,"qmn":0.001001,"qen":0.00001821},
{"k":2,"n":40,"qm":9.76,"qe":10.5,"kn2":3200,"kn4":5120000,"qmn":0.0009756,"qen":0.00001776},
{"k":0.000002,"n":40,"qm":9990,"qe":558540,"kn2":0.0032,"kn4":5.12,"qmn":0.99898,"qen":0.94668},
{"k":0.0000075,"n":40,"qm":9962,"qe":487120,"kn2":0.012,"kn4":19.2,"qmn":0.99617,"qen":0.82563},
{"k":0.0000125,"n":40,"qm":9936,"qe":436390,"kn2":0.02,"kn4":32,"qmn":0.99364,"qen":0.73964},
{"k":0.0000175,"n":40,"qm":9911,"qe":395230,"kn2":0.028,"kn4":44.8,"qmn":0.99112,"qen":0.66988},
{"k":0.0000225,"n":40,"qm":9886,"qe":361170,"kn2":0.036,"kn4":57.6,"qmn":0.98861,"qen":0.61214},
{"k":0.0000275,"n":40,"qm":9861,"qe":332510,"kn2":0.044,"kn4":70.4,"qmn":0.98612,"qen":0.56357},
{"k":0.000035,"n":40,"qm":9824,"qe":297140,"kn2":0.056,"kn4":89.6,"qmn":0.9824,"qen":0.50363},
{"k":0.000045,"n":40,"qm":9775,"qe":260230,"kn2":0.072,"kn4":115.2,"qmn":0.97748,"qen":0.44107},
{"k":0.000055,"n":40,"qm":9726,"qe":231480,"kn2":0.088,"kn4":140.8,"qmn":0.97261,"qen":0.39234},
{"k":0.000065,"n":40,"qm":9678,"qe":208450,"kn2":0.104,"kn4":166.4,"qmn":0.96779,"qen":0.35331},
{"k":0.0000775,"n":40,"qm":9618,"qe":185400,"kn2":0.124,"kn4":198.4,"qmn":0.96183,"qen":0.31424},
{"k":0.0000925,"n":40,"qm":9548,"qe":163670,"kn2":0.148,"kn4":236.8,"qmn":0.95478,"qen":0.27741},
{"k":0.0001125,"n":40,"qm":9455,"qe":141550,"kn2":0.18,"kn4":288,"qmn":0.94554,"qen":0.23992},
{"k":0.0001375,"n":40,"qm":9342,"qe":121100,"kn2":0.22,"kn4":352,"qmn":0.93423,"qen":0.20525},
{"k":0.0001625,"n":40,"qm":9232,"qe":105810,"kn2":0.26,"kn4":416,"qmn":0.92319,"qen":0.17934},
{"k":0.0001875,"n":40,"qm":9124,"qe":93949,"kn2":0.3,"kn4":480,"qmn":0.91241,"qen":0.15924},
{"k":0.000225,"n":40,"qm":8967,"qe":80425,"kn2":0.36,"kn4":576,"qmn":0.8967,"qen":0.13631},
{"k":0.000275,"n":40,"qm":8766,"qe":67475,"kn2":0.44,"kn4":704,"qmn":0.87658,"qen":0.11436},
{"k":0.000325,"n":40,"qm":8573,"qe":58117,"kn2":0.52,"kn4":832,"qmn":0.85734,"qen":0.098503},
{"k":0.000375,"n":40,"qm":8389,"qe":51038,"kn2":0.6,"kn4":960,"qmn":0.83893,"qen":0.086505},
{"k":0.00045,"n":40,"qm":8127,"qe":43154,"kn2":0.72,"kn4":1152,"qmn":0.81274,"qen":0.073142},
{"k":0.00055,"n":40,"qm":7803,"qe":35783,"kn2":0.88,"kn4":1408,"qmn":0.78027,"qen":0.06065},
{"k":0.00065,"n":40,"qm":7503,"qe":30564,"kn2":1.04,"kn4":1664,"qmn":0.7503,"qen":0.051803},
{"k":0.000775,"n":40,"qm":7159,"qe":25850,"kn2":1.24,"kn4":1984,"qmn":0.71592,"qen":0.043814},
{"k":0.000925,"n":40,"qm":6786,"qe":21813,"kn2":1.48,"kn4":2368,"qmn":0.67861,"qen":0.036972},
{"k":0.001125,"n":40,"qm":6345,"qe":18054,"kn2":1.8,"kn4":2880,"qmn":0.63452,"qen":0.0306},
{"k":0.001375,"n":40,"qm":5869,"qe":14854,"kn2":2.2,"kn4":3520,"qmn":0.58685,"qen":0.025176},
{"k":0.001625,"n":40,"qm":5459,"qe":12618,"kn2":2.6,"kn4":4160,"qmn":0.54585,"qen":0.021386},
{"k":0.001875,"n":40,"qm":5102,"qe":10967,"kn2":3,"kn4":4800,"qmn":0.5102,"qen":0.018587},
{"k":0.00225,"n":40,"qm":4647,"qe":9167,"kn2":3.6,"kn4":5760,"qmn":0.46468,"qen":0.015538},
{"k":0.00275,"n":40,"qm":4153,"qe":7522,"kn2":4.4,"kn4":7040,"qmn":0.41528,"qen":0.012749},
{"k":0.0035,"n":40,"qm":3582,"qe":5926,"kn2":5.6,"kn4":8960,"qmn":0.35817,"qen":0.010044},
{"k":0.0045,"n":40,"qm":3027,"qe":4619,"kn2":7.2,"kn4":11520,"qmn":0.30266,"qen":0.0078296},
{"k":0.0055,"n":40,"qm":2621,"qe":3785,"kn2":8.8,"kn4":14080,"qmn":0.26205,"qen":0.0064152},
{"k":0.0065,"n":40,"qm":2311,"qe":3206,"kn2":10.4,"kn4":16640,"qmn":0.23105,"qen":0.0054336},
{"k":0.00775,"n":40,"qm":2013,"qe":2691,"kn2":12.4,"kn4":19840,"qmn":0.20129,"qen":0.0045612},
{"k":0.00925,"n":40,"qm":1743,"qe":2256,"kn2":14.8,"kn4":23680,"qmn":0.17434,"qen":0.0038244}
 ],
 "fc": [
{"x":0,"y":1},{"x":1,"y":0.7576},{"x":2,"y":0.6098},{"x":4,"y":0.4386},{"x":7,"y":0.3086},{"x":10,"y":0.2381},{"x":15,"y":0.1724},{"x":20,"y":0.1351},{"x":30,"y":0.09434},{"x":45,"y":0.06494},{"x":60,"y":0.0495},{"x":80,"y":0.03759},{"x":100,"y":0.0303},{"x":130,"y":0.02347},{"x":160,"y":0.01916},{"x":200,"y":0.01538},{"x":250,"y":0.01235},{"x":300,"y":0.01031},{"x":400,"y":0.007752},{"x":500,"y":0.006211},{"x":650,"y":0.004785},{"x":800,"y":0.003891},{"x":1000,"y":0.003115},{"x":1250,"y":0.002494},{"x":1500,"y":0.002079},{"x":2000,"y":0.00156},{"x":2500,"y":0.001248},{"x":3200,"y":0.0009756}
 ],
 "fd": [
{"x":0,"y":1},{"x":30,"y":0.7519},{"x":100,"y":0.4762},{"x":300,"y":0.2326},{"x":1000,"y":0.08333},{"x":3000,"y":0.02941},{"x":10000,"y":0.009009},{"x":20000,"y":0.004525},{"x":40000,"y":0.002268},{"x":70000,"y":0.001297},{"x":100000,"y":0.0009083},{"x":150000,"y":0.0006057},{"x":200000,"y":0.0004543},{"x":300000,"y":0.0003029},{"x":400000,"y":0.0002272},{"x":600000,"y":0.0001515},{"x":800000,"y":0.0001136},{"x":1000000,"y":0.0000909},{"x":1300000,"y":0.00006993},{"x":1600000,"y":0.00005682},{"x":2000000,"y":0.00004545},{"x":2500000,"y":0.00003636},{"x":3000000,"y":0.0000303},{"x":3500000,"y":0.00002597},{"x":4000000,"y":0.00002273},{"x":4500000,"y":0.0000202},{"x":5120000,"y":0.00001776}
 ]
},
"columns": 2,
"spacing": {"row": 160, "column": 140},
"bounds": "flush",
"resolve": {"scale": {"color": "independent"}, "legend": {"color": "independent"}},
"concat": [
 {
  "width": 455, "height": 365,
  "title": {"text": "Magnetic dipole"},
  "data": {"name": "q"},
  "layer": [
   {"mark": {"type": "line", "strokeWidth": 1},
    "encoding": {
     "x": {"field": "k", "type": "quantitative", "scale": {"domain": [0, 2], "nice": false, "zero": false}, "axis": {"orient": "bottom", "values": [0, 1, 2], "labelExpr": "'' + datum.value", "title": "Extinction coefficient 𝑘"}},
     "y": {"field": "qm", "type": "quantitative", "scale": {"type": "log", "domain": [1, 10000], "nice": false}, "axis": {"orient": "left", "values": [1,2,3,4,5,6,7,8,9,10,20,30,40,50,60,70,80,90,100,200,300,400,500,600,700,800,900,1000,2000,3000,4000,5000,6000,7000,8000,9000,10000], "labelExpr": "datum.value == 1 ? '10⁰' : datum.value == 100 ? '10²' : datum.value == 10000 ? '10⁴' : ''", "title": "𝑄 factor", "titlePadding": 23}},
     "color": {"field": "n", "type": "ordinal", "scale": {"domain": [5, 10, 20, 40], "range": ["#000000", "#228B22", "#BA55D3", "#00FFFF"]}, "legend": {"title": null, "orient": "none", "legendX": 288, "legendY": 26, "symbolType": "M-1,0L1,0M0,-1L0,1M-0.7,-0.7L0.7,0.7M-0.7,0.7L0.7,-0.7", "symbolSize": 120, "symbolStrokeWidth": 1, "rowPadding": 10, "labelOffset": 29, "padding": 0, "labelExpr": "'𝑛 = ' + datum.label"}}
    }},
   {"mark": {"type": "point", "shape": "M-1,0L1,0M0,-1L0,1M-0.7,-0.7L0.7,0.7M-0.7,0.7L0.7,-0.7", "filled": false, "size": 160, "strokeWidth": 1, "opacity": 1},
    "encoding": {
     "x": {"field": "k", "type": "quantitative", "axis": {"orient": "top", "values": [0, 1, 2], "labels": false, "title": null}},
     "y": {"field": "qm", "type": "quantitative", "axis": {"orient": "right", "values": [1,2,3,4,5,6,7,8,9,10,20,30,40,50,60,70,80,90,100,200,300,400,500,600,700,800,900,1000,2000,3000,4000,5000,6000,7000,8000,9000,10000], "labels": false, "title": null}},
     "color": {"field": "n", "type": "ordinal", "legend": {"title": null, "orient": "none", "legendX": 288, "legendY": 26, "symbolType": "M-1,0L1,0M0,-1L0,1M-0.7,-0.7L0.7,0.7M-0.7,0.7L0.7,-0.7", "symbolSize": 120, "symbolStrokeWidth": 1, "rowPadding": 10, "labelOffset": 29, "padding": 0, "labelExpr": "'𝑛 = ' + datum.label"}}
    }},
   {"data": {"values": [{}]},
    "mark": {"type": "text", "fontSize": 34, "font": "DejaVu Serif", "align": "center", "baseline": "middle", "color": "#000000"},
    "encoding": {"x": {"datum": 0.229, "type": "quantitative", "axis": null}, "y": {"datum": 2000, "type": "quantitative", "axis": null}, "text": {"value": "a)"}}}
  ],
  "resolve": {"axis": {"x": "independent", "y": "independent"}}
 },
 {
  "width": 455, "height": 365,
  "title": {"text": "Electric dipole"},
  "data": {"name": "q"},
  "layer": [
   {"mark": {"type": "line", "strokeWidth": 1},
    "encoding": {
     "x": {"field": "k", "type": "quantitative", "scale": {"domain": [0, 2], "nice": false, "zero": false}, "axis": {"orient": "bottom", "values": [0, 1, 2], "labelExpr": "'' + datum.value", "title": "Extinction coefficient 𝑘"}},
     "y": {"field": "qe", "type": "quantitative", "scale": {"type": "log", "domain": [1, 1000000], "nice": false}, "axis": {"orient": "left", "values": [1,2,3,4,5,6,7,8,9,10,20,30,40,50,60,70,80,90,100,200,300,400,500,600,700,800,900,1000,2000,3000,4000,5000,6000,7000,8000,9000,10000,20000,30000,40000,50000,60000,70000,80000,90000,100000,200000,300000,400000,500000,600000,700000,800000,900000,1000000], "labelExpr": "datum.value == 1 ? '10⁰' : datum.value == 100 ? '10²' : datum.value == 10000 ? '10⁴' : datum.value == 1000000 ? '10⁶' : ''", "title": null}},
     "color": {"field": "n", "type": "ordinal", "scale": {"domain": [5, 10, 20, 40], "range": ["#000000", "#228B22", "#BA55D3", "#00FFFF"]}, "legend": {"title": null, "orient": "none", "legendX": 291, "legendY": 26, "symbolType": "M-1,0L1,0M0,-1L0,1M-0.7,-0.7L0.7,0.7M-0.7,0.7L0.7,-0.7", "symbolSize": 120, "symbolStrokeWidth": 1, "rowPadding": 10, "labelOffset": 29, "padding": 0, "labelExpr": "'𝑛 = ' + datum.label"}}
    }},
   {"mark": {"type": "point", "shape": "M-1,0L1,0M0,-1L0,1M-0.7,-0.7L0.7,0.7M-0.7,0.7L0.7,-0.7", "filled": false, "size": 160, "strokeWidth": 1, "opacity": 1},
    "encoding": {
     "x": {"field": "k", "type": "quantitative", "axis": {"orient": "top", "values": [0, 1, 2], "labels": false, "title": null}},
     "y": {"field": "qe", "type": "quantitative", "axis": {"orient": "right", "values": [1,2,3,4,5,6,7,8,9,10,20,30,40,50,60,70,80,90,100,200,300,400,500,600,700,800,900,1000,2000,3000,4000,5000,6000,7000,8000,9000,10000,20000,30000,40000,50000,60000,70000,80000,90000,100000,200000,300000,400000,500000,600000,700000,800000,900000,1000000], "labels": false, "title": null}},
     "color": {"field": "n", "type": "ordinal", "legend": {"title": null, "orient": "none", "legendX": 291, "legendY": 26, "symbolType": "M-1,0L1,0M0,-1L0,1M-0.7,-0.7L0.7,0.7M-0.7,0.7L0.7,-0.7", "symbolSize": 120, "symbolStrokeWidth": 1, "rowPadding": 10, "labelOffset": 29, "padding": 0, "labelExpr": "'𝑛 = ' + datum.label"}}
    }},
   {"data": {"values": [{}]},
    "mark": {"type": "text", "fontSize": 34, "font": "DejaVu Serif", "align": "center", "baseline": "middle", "color": "#000000"},
    "encoding": {"x": {"datum": 0.237, "type": "quantitative", "axis": null}, "y": {"datum": 61000, "type": "quantitative", "axis": null}, "text": {"value": "b)"}}}
  ],
  "resolve": {"axis": {"x": "independent", "y": "independent"}}
 },
 {
  "width": 455, "height": 365,
  "layer": [
   {"data": {"name": "q"},
    "mark": {"type": "point", "shape": "M-1,0L1,0M0,-1L0,1M-0.7,-0.7L0.7,0.7M-0.7,0.7L0.7,-0.7", "filled": false, "size": 160, "strokeWidth": 1, "opacity": 1},
    "encoding": {
     "x": {"field": "kn2", "type": "quantitative", "scale": {"domain": [0, 3200], "nice": false, "zero": false}, "axis": {"orient": "bottom", "values": [0, 1000, 2000, 3000], "labelExpr": "'' + datum.value", "title": "𝑘 · 𝑛²"}},
     "y": {"field": "qmn", "type": "quantitative", "scale": {"type": "log", "domain": [0.0009756, 1], "nice": false}, "axis": {"orient": "left", "values": [0.001, 0.01, 0.1, 1], "labelExpr": "datum.value == 1 ? '10⁰' : datum.value == 0.001 ? '10⁻³' : ''", "title": "Normalized 𝑄 factor", "titlePadding": 26}},
     "color": {"field": "n", "type": "ordinal", "scale": {"domain": [5, 10, 20, 40], "range": ["#000000", "#228B22", "#BA55D3", "#00FFFF"]}, "legend": {"title": null, "orient": "none", "legendX": 288, "legendY": 26, "symbolType": "M-1,0L1,0M0,-1L0,1M-0.7,-0.7L0.7,0.7M-0.7,0.7L0.7,-0.7", "symbolSize": 120, "symbolStrokeWidth": 1, "rowPadding": 10, "labelOffset": 29, "padding": 0, "labelExpr": "'𝑛 = ' + datum.label"}}
    }},
   {"data": {"name": "fc"},
    "mark": {"type": "line", "color": "#FF0000", "strokeWidth": 2.5, "interpolate": "monotone"},
    "encoding": {
     "x": {"field": "x", "type": "quantitative", "axis": {"orient": "top", "values": [0, 1000, 2000, 3000], "labels": false, "title": null}},
     "y": {"field": "y", "type": "quantitative", "axis": {"orient": "right", "values": [0.001, 0.01, 0.1, 1], "labels": false, "title": null}}
    }},
   {"data": {"values": [{}]},
    "mark": {"type": "text", "fontSize": 34, "font": "DejaVu Serif", "align": "center", "baseline": "middle", "color": "#000000"},
    "encoding": {"x": {"datum": 366, "type": "quantitative", "axis": null}, "y": {"datum": 0.2, "type": "quantitative", "axis": null}, "text": {"value": "c)"}}},
   {"data": {"values": [{}]},
    "mark": {"type": "text", "fontSize": 25, "font": "DejaVu Serif", "align": "center", "baseline": "middle", "color": "#FF0000"},
    "encoding": {"x": {"datum": 1660, "type": "quantitative", "axis": null}, "y": {"datum": 0.0082, "type": "quantitative", "axis": null}, "text": {"value": "1"}}},
   {"data": {"values": [{}]},
    "mark": {"type": "rule", "color": "#FF0000", "strokeWidth": 1.5},
    "encoding": {"x": {"datum": 1104, "type": "quantitative", "axis": null}, "x2": {"datum": 2215}, "y": {"datum": 0.00594, "type": "quantitative", "axis": null}}},
   {"data": {"values": [{}]},
    "mark": {"type": "text", "fontSize": 25, "font": "DejaVu Serif", "align": "center", "baseline": "middle", "color": "#FF0000"},
    "encoding": {"x": {"datum": 1660, "type": "quantitative", "axis": null}, "y": {"datum": 0.00447, "type": "quantitative", "axis": null}, "text": {"value": "|1+0.32𝑘𝑛²|"}}}
  ],
  "resolve": {"axis": {"x": "independent", "y": "independent"}}
 },
 {
  "width": 455, "height": 365,
  "layer": [
   {"data": {"name": "q"},
    "mark": {"type": "point", "shape": "M-1,0L1,0M0,-1L0,1M-0.7,-0.7L0.7,0.7M-0.7,0.7L0.7,-0.7", "filled": false, "size": 160, "strokeWidth": 1, "opacity": 1},
    "encoding": {
     "x": {"field": "kn4", "type": "quantitative", "scale": {"domain": [0, 5120000], "nice": false, "zero": false}, "axis": {"orient": "bottom", "values": [0, 2000000, 4000000], "labelExpr": "'' + round(datum.value / 1000000)", "title": "𝑘 · 𝑛⁴"}},
     "y": {"field": "qen", "type": "quantitative", "scale": {"type": "log", "domain": [0.00001776, 1], "nice": false}, "axis": {"orient": "left", "values": [0.00002,0.00003,0.00004,0.00005,0.00006,0.00007,0.00008,0.00009,0.0001,0.0002,0.0003,0.0004,0.0005,0.0006,0.0007,0.0008,0.0009,0.001,0.002,0.003,0.004,0.005,0.006,0.007,0.008,0.009,0.01,0.02,0.03,0.04,0.05,0.06,0.07,0.08,0.09,0.1,0.2,0.3,0.4,0.5,0.6,0.7,0.8,0.9,1], "labelExpr": "datum.value == 1 ? '10⁰' : datum.value == 0.01 ? '10⁻²' : datum.value == 0.0001 ? '10⁻⁴' : ''", "title": null}},
     "color": {"field": "n", "type": "ordinal", "scale": {"domain": [5, 10, 20, 40], "range": ["#000000", "#228B22", "#BA55D3", "#00FFFF"]}, "legend": {"title": null, "orient": "none", "legendX": 291, "legendY": 26, "symbolType": "M-1,0L1,0M0,-1L0,1M-0.7,-0.7L0.7,0.7M-0.7,0.7L0.7,-0.7", "symbolSize": 120, "symbolStrokeWidth": 1, "rowPadding": 10, "labelOffset": 29, "padding": 0, "labelExpr": "'𝑛 = ' + datum.label"}}
    }},
   {"data": {"name": "fd"},
    "mark": {"type": "line", "color": "#FF0000", "strokeWidth": 1, "interpolate": "monotone"},
    "encoding": {
     "x": {"field": "x", "type": "quantitative", "axis": {"orient": "top", "values": [0, 2000000, 4000000], "labels": false, "title": "×10⁶", "titleX": 455, "titleY": 447, "titleAlign": "right", "titleAnchor": null, "titleBaseline": "alphabetic", "titleAngle": 0, "titleFontSize": 26}},
     "y": {"field": "y", "type": "quantitative", "axis": {"orient": "right", "values": [0.00002,0.00003,0.00004,0.00005,0.00006,0.00007,0.00008,0.00009,0.0001,0.0002,0.0003,0.0004,0.0005,0.0006,0.0007,0.0008,0.0009,0.001,0.002,0.003,0.004,0.005,0.006,0.007,0.008,0.009,0.01,0.02,0.03,0.04,0.05,0.06,0.07,0.08,0.09,0.1,0.2,0.3,0.4,0.5,0.6,0.7,0.8,0.9,1], "labels": false, "title": null}}
    }},
   {"data": {"values": [{}]},
    "mark": {"type": "text", "fontSize": 34, "font": "DejaVu Serif", "align": "center", "baseline": "middle", "color": "#000000"},
    "encoding": {"x": {"datum": 607000, "type": "quantitative", "axis": null}, "y": {"datum": 0.07, "type": "quantitative", "axis": null}, "text": {"value": "d)"}}},
   {"data": {"values": [{}]},
    "mark": {"type": "text", "fontSize": 25, "font": "DejaVu Serif", "align": "center", "baseline": "middle", "color": "#FF0000"},
    "encoding": {"x": {"datum": 2768000, "type": "quantitative", "axis": null}, "y": {"datum": 0.00036, "type": "quantitative", "axis": null}, "text": {"value": "1"}}},
   {"data": {"values": [{}]},
    "mark": {"type": "rule", "color": "#FF0000", "strokeWidth": 1.5},
    "encoding": {"x": {"datum": 1767000, "type": "quantitative", "axis": null}, "x2": {"datum": 3736000}, "y": {"datum": 0.000231, "type": "quantitative", "axis": null}}},
   {"data": {"values": [{}]},
    "mark": {"type": "text", "fontSize": 25, "font": "DejaVu Serif", "align": "center", "baseline": "middle", "color": "#FF0000"},
    "encoding": {"x": {"datum": 2768000, "type": "quantitative", "axis": null}, "y": {"datum": 0.000139, "type": "quantitative", "axis": null}, "text": {"value": "|1+0.011𝑘𝑛⁴|"}}}
  ],
  "resolve": {"axis": {"x": "independent", "y": "independent"}}
 }
]
}
